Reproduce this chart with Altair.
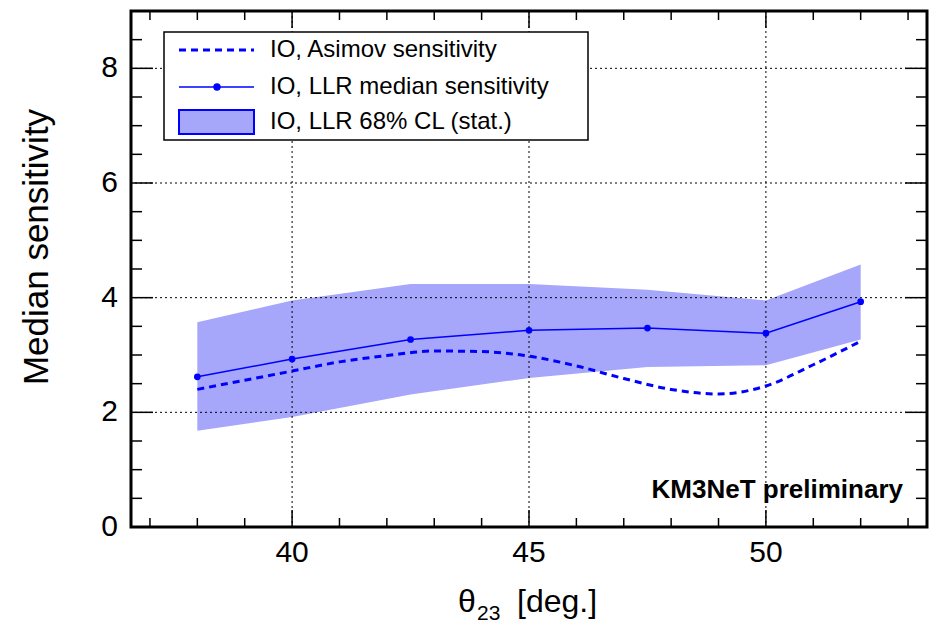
import altair as alt
import pandas as pd

# ---------------- data ----------------
theta_llr = [38, 40, 42.5, 45, 47.5, 50, 52]
llr_median = [2.62, 2.93, 3.27, 3.43, 3.47, 3.38, 3.93]
llr_lo = [1.68, 1.92, 2.31, 2.60, 2.79, 2.82, 3.27]
llr_hi = [3.57, 3.95, 4.24, 4.24, 4.14, 3.95, 4.58]

theta_asimov = [38, 39, 40, 41, 42, 43, 44, 45, 46, 47, 48, 49, 50, 51, 52]
asimov = [2.40, 2.56, 2.72, 2.88, 2.99, 3.07, 3.06, 2.98, 2.81, 2.59, 2.40, 2.32, 2.46, 2.83, 3.24]

x_major = [40, 45, 50]
x_minor = [37, 38, 39, 41, 42, 43, 44, 46, 47, 48, 49, 51, 52, 53]
y_major = [2, 4, 6, 8]
y_minor = [0.5, 1, 1.5, 2.5, 3, 3.5, 4.5, 5, 5.5, 6.5, 7, 7.5, 8.5]
x_labels = [40, 45, 50]
y_labels = [0, 2, 4, 6, 8]

legend_labels = ["IO, Asimov sensitivity", "IO, LLR median sensitivity", "IO, LLR 68% CL (stat.)"]

# ---------------- layout ----------------
W, H = 796, 516
FONT = "Liberation Sans"
BLUE = "#0000ff"
BAND = "#a6a6fa"

xs = alt.Scale(domain=[36.6, 53.4], nice=False, zero=False)
ys = alt.Scale(domain=[0, 9], nice=False, zero=False)

df_llr = pd.DataFrame({"t": theta_llr, "m": llr_median, "lo": llr_lo, "hi": llr_hi})
df_asi = pd.DataFrame({"t": theta_asimov, "s": asimov})
one = pd.DataFrame({"a": [0]})

band = alt.Chart(df_llr).mark_area(color=BAND, opacity=1).encode(
    x=alt.X("t:Q", scale=xs, axis=None),
    y=alt.Y("lo:Q", scale=ys, axis=None),
    y2="hi:Q",
)

gx = alt.Chart(pd.DataFrame({"v": x_major})).mark_rule(color="black", strokeWidth=1, strokeDash=[2, 3]).encode(
    x=alt.X("v:Q", scale=xs, axis=None))
gy = alt.Chart(pd.DataFrame({"v": y_major})).mark_rule(color="black", strokeWidth=1, strokeDash=[2, 3]).encode(
    y=alt.Y("v:Q", scale=ys, axis=None))

asi_line = alt.Chart(df_asi).mark_line(color=BLUE, strokeWidth=3, strokeDash=[7, 5], interpolate="monotone").encode(
    x=alt.X("t:Q", scale=xs, axis=None), y=alt.Y("s:Q", scale=ys, axis=None))

med_line = alt.Chart(df_llr).mark_line(color=BLUE, strokeWidth=1.5).encode(
    x=alt.X("t:Q", scale=xs, axis=None), y=alt.Y("m:Q", scale=ys, axis=None))
med_pts = alt.Chart(df_llr).mark_point(color=BLUE, filled=True, size=45, opacity=1).encode(
    x=alt.X("t:Q", scale=xs, axis=None), y=alt.Y("m:Q", scale=ys, axis=None))


def xticks(vals, length, top):
    y0 = 0 if top else H
    y1 = length if top else H - length
    return alt.Chart(pd.DataFrame({"v": vals})).mark_rule(color="black", strokeWidth=1.5).encode(
        x=alt.X("v:Q", scale=xs, axis=None), y=alt.value(y0), y2=alt.value(y1))


def yticks(vals, length, right):
    x0 = W if right else 0
    x1 = W - length if right else length
    return alt.Chart(pd.DataFrame({"v": vals})).mark_rule(color="black", strokeWidth=1.5).encode(
        y=alt.Y("v:Q", scale=ys, axis=None), x=alt.value(x0), x2=alt.value(x1))


ticks = [
    xticks(x_major, 17, False), xticks(x_minor, 9, False),
    xticks(x_major, 17, True), xticks(x_minor, 9, True),
    yticks(y_major, 22, False), yticks(y_minor, 11, False),
    yticks(y_major, 22, True), yticks(y_minor, 11, True),
]

xlab = alt.Chart(pd.DataFrame({"v": x_labels})).mark_text(
    font=FONT, fontSize=30, align="center", baseline="middle", color="black").encode(
    x=alt.X("v:Q", scale=xs, axis=None), y=alt.value(H + 26), text=alt.Text("v:Q"))
ylab = alt.Chart(pd.DataFrame({"v": y_labels})).mark_text(
    font=FONT, fontSize=30, align="right", baseline="middle", color="black").encode(
    y=alt.Y("v:Q", scale=ys, axis=None), x=alt.value(-13), text=alt.Text("v:Q"))

frame = alt.Chart(one).mark_rect(filled=False, stroke="black", strokeWidth=3).encode(
    x=alt.value(0), x2=alt.value(W), y=alt.value(0), y2=alt.value(H))

# ---------------- legend ----------------
leg_box = alt.Chart(one).mark_rect(fill="white", stroke="black", strokeWidth=1.5).encode(
    x=alt.value(33), x2=alt.value(457), y=alt.value(21), y2=alt.value(129))
leg_dash = alt.Chart(one).mark_rule(color=BLUE, strokeWidth=3, strokeDash=[7, 5]).encode(
    x=alt.value(48), x2=alt.value(123), y=alt.value(39))
leg_line = alt.Chart(one).mark_rule(color=BLUE, strokeWidth=1.5).encode(
    x=alt.value(48), x2=alt.value(123), y=alt.value(76))
leg_dot = alt.Chart(one).mark_point(color=BLUE, filled=True, size=55, opacity=1).encode(
    x=alt.value(86), y=alt.value(76))
leg_sw = alt.Chart(one).mark_rect(fill=BAND, stroke=BLUE, strokeWidth=2).encode(
    x=alt.value(48), x2=alt.value(123), y=alt.value(99), y2=alt.value(123))
leg_texts = [
    alt.Chart(one).mark_text(text=t, font=FONT, fontSize=24, align="left", baseline="middle", color="black").encode(
        x=alt.value(139), y=alt.value(yy))
    for t, yy in zip(legend_labels, [39, 76, 111])
]

km3 = alt.Chart(one).mark_text(text="KM3NeT preliminary", font=FONT, fontSize=26, fontWeight="bold",
                               align="right", baseline="middle", color="black").encode(
    x=alt.value(772), y=alt.value(479))

# ---------------- axis titles ----------------
ytitle = alt.Chart(one).mark_text(text="Median sensitivity", font=FONT, fontSize=35, angle=270,
                                  align="center", baseline="middle", color="black").encode(
    x=alt.value(-94), y=alt.value(236))
xt1 = alt.Chart(one).mark_text(text="θ", font=FONT, fontSize=32, align="center", baseline="alphabetic",
                               color="black").encode(x=alt.value(336), y=alt.value(601))
xt2 = alt.Chart(one).mark_text(text="23", font=FONT, fontSize=21, align="left", baseline="alphabetic",
                               color="black").encode(x=alt.value(346), y=alt.value(609))
xt3 = alt.Chart(one).mark_text(text="[deg.]", font=FONT, fontSize=32, align="left", baseline="alphabetic",
                               color="black").encode(x=alt.value(386), y=alt.value(601))

chart = alt.layer(
    band, gx, gy, asi_line, med_line, med_pts, *ticks, frame, xlab, ylab,
    leg_box, leg_dash, leg_line, leg_dot, leg_sw, *leg_texts, km3,
    ytitle, xt1, xt2, xt3,
).properties(
    width=W, height=H,
    autosize=alt.AutoSizeParams(type="none"),
    padding={"left": 131, "top": 11, "right": 7, "bottom": 97},
).configure_view(stroke=None).configure(background="white")

chart.save("out.html", embed_options={"renderer": "svg", "actions": False})
